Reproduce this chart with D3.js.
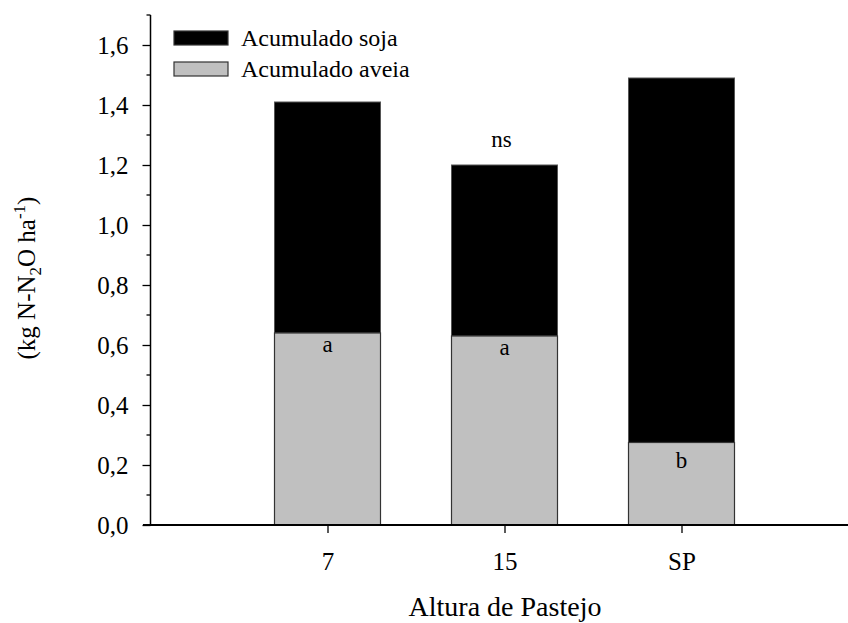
<!DOCTYPE html>
<html><head><meta charset="utf-8">
<script src="https://cdn.jsdelivr.net/npm/d3@7"></script>
<style>body{margin:0;background:#fff}svg{display:block}svg text{font-family:"Liberation Serif","Tinos","Times New Roman",Times,"DejaVu Serif",serif !important;fill:#000}</style>
</head><body>
<svg id="c" width="848" height="623"></svg>
<script>
const categories = ["7", "15", "SP"];
const aveia = [0.64, 0.63, 0.275];
const soja = [0.77, 0.57, 1.215];
const letters = ["a", "a", "b"];
const yTicks = [0, 0.2, 0.4, 0.6, 0.8, 1.0, 1.2, 1.4, 1.6];
const yMinor = [0.1, 0.3, 0.5, 0.7, 0.9, 1.1, 1.3, 1.5, 1.7];
const topNote = "ns";
const seriesNames = ["Acumulado soja", "Acumulado aveia"];

const FONT = "Liberation Serif, Tinos, Times New Roman, DejaVu Serif, serif";
const svg = d3.select("#c");
const y = d3.scaleLinear().domain([0, 1.7]).range([525, 15]);
const x = d3.scaleLinear().domain([0, 4]).range([150.5, 858.5]);
const bw = 106;
const fmt = d => d.toFixed(1).replace(".", ",");

// bars
const g = svg.append("g");
categories.forEach((c, i) => {
  const cx = x(i + 1);
  g.append("rect").attr("x", cx - bw/2).attr("width", bw)
    .attr("y", y(aveia[i] + soja[i])).attr("height", y(aveia[i]) - y(aveia[i] + soja[i]))
    .attr("fill", "#000").attr("stroke", "#555").attr("stroke-width", 1);
  g.append("rect").attr("x", cx - bw/2).attr("width", bw)
    .attr("y", y(aveia[i])).attr("height", y(0) - y(aveia[i]))
    .attr("fill", "#c0c0c0").attr("stroke", "#333").attr("stroke-width", 1.2);
  g.append("text").attr("x", cx).attr("y", y(aveia[i]) + (letters[i] === "b" ? 25 : 19))
    .attr("text-anchor", "middle").attr("font-family", FONT).attr("font-size", 23).text(letters[i]);
});
// ns label
svg.append("text").attr("x", x(2) - 3).attr("y", y(aveia[1] + soja[1]) - 18)
  .attr("text-anchor", "middle").attr("font-family", FONT).attr("font-size", 23).text(topNote);

// y axis
const ya = svg.append("g").attr("transform", "translate(150.5,0)");
ya.call(d3.axisLeft(y).tickValues(yTicks).tickFormat(fmt).tickSize(8).tickPadding(14));
ya.attr("font-family", FONT);
ya.select(".domain").remove();
ya.selectAll(".tick line").attr("stroke", "#000").attr("stroke-width", 1.3);
ya.selectAll(".tick text").attr("font-size", 25).attr("font-family", FONT);
ya.selectAll(".minor").data(yMinor).enter().append("line").attr("class","minor")
  .attr("x1", -4).attr("x2", 0).attr("y1", d => y(d)).attr("y2", d => y(d))
  .attr("stroke", "#000").attr("stroke-width", 1.3);
ya.append("line").attr("x1", 0).attr("x2", 0).attr("y1", y(1.7)).attr("y2", y(0))
  .attr("stroke", "#000").attr("stroke-width", 1.5);

// x axis
const xa = svg.append("g").attr("transform", "translate(0,525)");
xa.call(d3.axisBottom(x).tickValues([1, 2, 3]).tickFormat(d => categories[d - 1]).tickSize(8).tickPadding(19));
xa.attr("font-family", FONT);
xa.select(".domain").remove();
xa.selectAll(".tick line").attr("stroke", "#000").attr("stroke-width", 1.3);
xa.selectAll(".tick text").attr("font-size", 25).attr("font-family", FONT);
xa.append("line").attr("x1", 143).attr("x2", 848).attr("y1", 0).attr("y2", 0)
  .attr("stroke", "#000").attr("stroke-width", 1.8);

// axis titles
svg.append("text").attr("x", 505).attr("y", 616).attr("text-anchor", "middle")
  .attr("font-family", FONT).attr("font-size", 28).text("Altura de Pastejo");
const yl = svg.append("text").attr("transform", "translate(35,278) rotate(-90)")
  .attr("text-anchor", "middle").attr("font-family", FONT).attr("font-size", 25);
yl.append("tspan").text("(kg N-N");
yl.append("tspan").attr("font-size", 17).attr("dy", 6).text("2");
yl.append("tspan").attr("dy", -6).text("O ha");
yl.append("tspan").attr("font-size", 17).attr("dy", -10).text("-1");
yl.append("tspan").attr("dy", 10).text(")");

// legend
const leg = svg.append("g");
const legFill = ["#000", "#c0c0c0"];
seriesNames.forEach((n, i) => {
  leg.append("rect").attr("x", 174).attr("y", 31 + i * 31).attr("width", 54).attr("height", 14)
    .attr("fill", legFill[i]).attr("stroke", "#333").attr("stroke-width", 1.2);
  leg.append("text").attr("x", 241).attr("y", 46 + i * 31).attr("font-family", FONT)
    .attr("font-size", 24).text(n);
});
</script>
</body></html>
